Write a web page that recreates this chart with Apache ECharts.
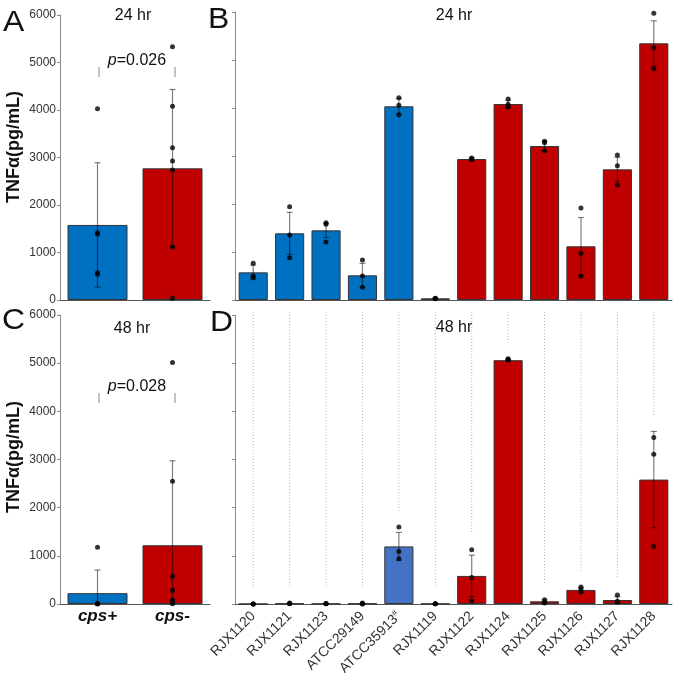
<!DOCTYPE html>
<html><head><meta charset="utf-8">
<script src="https://cdn.jsdelivr.net/npm/echarts@6/dist/echarts.min.js"></script>
<style>html,body{margin:0;padding:0;background:#fff}#c{width:677px;height:673px}</style>
</head><body><div id="c"></div><script>
// ---------- data ----------
const groups = ['cps+', 'cps-'];
const strains = ['RJX1120','RJX1121','RJX1123','ATCC29149','ATCC35913#','RJX1119','RJX1122','RJX1124','RJX1125','RJX1126','RJX1127','RJX1128'];
const strainGroup = [0,0,0,0,0,1,1,1,1,1,1,1]; // 0 = cps+, 1 = cps-
const yTicks = [0, 1000, 2000, 3000, 4000, 5000, 6000];

const groupMean24 = [1580, 2772];
const groupSd24 = [1310, 1660];
const groupDots24 = [[4027, 1417, 1390, 575, 540], [5333, 4077, 3207, 2926, 2737, 1116, 35]];

const groupMean48 = [225, 1219];
const groupSd48 = [480, 1754];
const groupDots48 = [[1178, 0, 10, 5, 8], [5014, 2548, 575, 288, 82, 56, 5]];

const strainMean24 = [576, 1389, 1451, 514, 4035, 35, 2937, 4083, 3208, 1118, 2722, 5347];
const strainSd24 = [150, 437, 150, 250, 160, 10, 30, 80, 100, 600, 250, 470];
const strainReps24 = [
  [764, 500, 472], [1944, 1354, 882], [1611, 1576, 1208], [833, 500, 264],
  [4215, 4056, 3861], [35, 30, 25], [2960, 2940, 2920], [4188, 4076, 4021],
  [3306, 3278, 3111], [1917, 972, 493], [3021, 2799, 2396], [5972, 5257, 4819]
];

const strainMean48 = [0, 10, 5, 8, 1196, 5, 583, 5062, 56, 292, 83, 2583];
const strainSd48 = [0, 5, 3, 5, 290, 3, 430, 20, 30, 50, 70, 1000];
const strainReps48 = [
  [0, 0, 0], [20, 10, 5], [8, 5, 3], [20, 5, 0],
  [1600, 1090, 937], [5, 5, 5], [1125, 549, 69], [5090, 5075, 5060],
  [90, 42, 21], [354, 306, 250], [188, 56, 42], [3458, 3111, 1194]
];

// ---------- styles ----------
const BLUE = '#0070C0', RED = '#C00000', BLUE_D = '#4472C4';
const FONT = '"Liberation Sans", Arial, sans-serif';
const ERR = 'rgba(0,0,0,0.5)';

function barData(means, grpOf, special) {
  return means.map((v, i) => ({
    value: v,
    itemStyle: { color: (special && special[i]) ? special[i] : (grpOf[i] === 0 ? BLUE : RED) }
  }));
}
function errData(means, sds) {
  return means.map((m, i) => [i, Math.max(0, m - sds[i]), m + sds[i]]);
}
function dotData(reps) {
  const out = [];
  reps.forEach((arr, i) => arr.forEach(v => out.push([i, v])));
  return out;
}
function errRender(params, api) {
  const x = api.value(0), lo = api.value(1), hi = api.value(2);
  if (hi - lo <= 0) return null;
  const t = api.coord([x, hi]), b = api.coord([x, lo]);
  const cw = 3, st = { stroke: ERR, lineWidth: 1.2 };
  return { type: 'group', children: [
    { type: 'line', shape: { x1: t[0], y1: t[1], x2: b[0], y2: b[1] }, style: st },
    { type: 'line', shape: { x1: t[0] - cw, y1: t[1], x2: t[0] + cw, y2: t[1] }, style: st },
    { type: 'line', shape: { x1: b[0] - cw, y1: b[1], x2: b[0] + cw, y2: b[1] }, style: st }
  ]};
}
function gridLineRender(params, api) {
  const x = api.value(0), v = api.value(1);
  const top = api.coord([x, yTicks[yTicks.length - 1]]);
  const end = api.coord([x, v]);
  return { type: 'line', shape: { x1: top[0], y1: top[1] - 3, x2: end[0], y2: end[1] - 16 },
    style: { stroke: '#b5b5b5', lineWidth: 1, lineDash: [1, 2] } };
}

const grids = [
  { left: 60, top: 15, width: 150, height: 285, outerBoundsMode: 'none', containLabel: false },
  { left: 235, top: 12, width: 437, height: 288, outerBoundsMode: 'none', containLabel: false },
  { left: 60, top: 315, width: 150, height: 289, outerBoundsMode: 'none', containLabel: false },
  { left: 235, top: 315, width: 437, height: 289, outerBoundsMode: 'none', containLabel: false }
];

function yAx(i, showLabels) {
  return {
    type: 'value', gridIndex: i, min: yTicks[0], max: yTicks[yTicks.length - 1], interval: 1000,
    axisLine: { show: true, lineStyle: { color: '#8a8a8a', width: 1 } },
    axisTick: { show: true, length: 3, lineStyle: { color: '#8a8a8a' } },
    axisLabel: { show: showLabels, fontSize: 12, color: '#333', fontFamily: FONT, margin: 4,
      formatter: v => String(v) },
    splitLine: { show: false }
  };
}
function xAx(i, cats, label) {
  return {
    type: 'category', gridIndex: i, data: cats, barCategoryGap: '20%',
    axisLine: { show: true, lineStyle: { color: '#555', width: 1 } },
    axisTick: { show: false },
    axisLabel: label || { show: false },
    splitLine: { show: false }
  };
}

const series = [];
function addPanel(idx, cats, means, sds, dots, grpOf, special) {
  series.push({ type: 'bar', xAxisIndex: idx, yAxisIndex: idx, data: barData(means, grpOf, special),
    barCategoryGap: '20%', itemStyle: { borderColor: '#333', borderWidth: 1 }, z: 2, silent: true });
  series.push({ type: 'custom', xAxisIndex: idx, yAxisIndex: idx, data: errData(means, sds),
    renderItem: errRender, z: 3, silent: true });
  series.push({ type: 'scatter', xAxisIndex: idx, yAxisIndex: idx, data: dots, symbolSize: 5,
    itemStyle: { color: '#000' }, z: 4, silent: true });
}

addPanel(0, groups, groupMean24, groupSd24, groupDots24.flatMap((a, i) => a.map(v => [i, v])), [0, 1]);
addPanel(1, strains, strainMean24, strainSd24, dotData(strainReps24), strainGroup);
addPanel(2, groups, groupMean48, groupSd48, groupDots48.flatMap((a, i) => a.map(v => [i, v])), [0, 1]);
addPanel(3, strains, strainMean48, strainSd48, dotData(strainReps48), strainGroup, { 4: BLUE_D });
// dotted vertical guide lines in panel D
series.push({ type: 'custom', xAxisIndex: 3, yAxisIndex: 3, z: 1, silent: true,
  data: strainMean48.map((m, i) => [i, Math.max(m + strainSd48[i], ...strainReps48[i])]),
  renderItem: gridLineRender });

const letter = (t, x, y) => ({ type: 'text', left: x, top: y, scaleX: 1.1,
  style: { text: t, fontSize: 29, fontFamily: FONT, fill: '#111' } });
const title = (t, x, y) => ({ type: 'text', x: x, y: y,
  style: { text: t, fontSize: 16, fontFamily: FONT, fill: '#111', align: 'center', verticalAlign: 'middle' } });
const yTitle = (y) => ({ type: 'text', x: 14, y: y, rotation: Math.PI / 2,
  style: { text: 'TNFα(pg/mL)', fontSize: 18, fontWeight: 'bold', fontFamily: FONT, fill: '#111', align: 'center', verticalAlign: 'middle' } });
const pAnn = (label, y) => ([
  { type: 'text', x: 137, y: y, style: { text: '{i|p}=' + label, fontSize: 16, fontFamily: FONT, fill: '#111', align: 'center', verticalAlign: 'middle',
    rich: { i: { fontStyle: 'italic', fontSize: 16, fontFamily: FONT, fill: '#111' } } } },
  { type: 'line', shape: { x1: 99, y1: y + 6, x2: 99, y2: y + 16 }, style: { stroke: '#888', lineWidth: 1 } },
  { type: 'line', shape: { x1: 175, y1: y + 6, x2: 175, y2: y + 16 }, style: { stroke: '#888', lineWidth: 1 } }
]);

const option = {
  animation: false,
  backgroundColor: '#fff',
  textStyle: { fontFamily: FONT },
  grid: grids,
  xAxis: [
    xAx(0, groups),
    xAx(1, strains),
    xAx(2, groups, { show: true, fontSize: 17, fontWeight: 'bold', fontStyle: 'italic', color: '#111', fontFamily: FONT, margin: 4 }),
    xAx(3, strains, { show: true, rotate: 45, fontSize: 14, color: '#333', fontFamily: FONT, margin: 10, interval: 0,
      formatter: v => v.indexOf('#') >= 0 ? v.replace('#', '{s|#}') : v,
      rich: { s: { fontSize: 8, verticalAlign: 'top', padding: [0, 0, 7, 0], color: '#333' } } })
  ],
  yAxis: [yAx(0, true), yAx(1, false), yAx(2, true), yAx(3, false)],
  series: series,
  graphic: [
    letter('A', 3, 8), letter('B', 208, 5), letter('C', 2, 306), letter('D', 210, 308),
    title('24 hr', 133, 16), title('24 hr', 454, 16), title('48 hr', 132, 329), title('48 hr', 454, 328),
    yTitle(147), yTitle(457),
    ...pAnn('0.026', 61), ...pAnn('0.028', 387)
  ]
};
const chart = echarts.init(document.getElementById('c'), null, { renderer: 'canvas' });
chart.setOption(option);
</script></body></html>
